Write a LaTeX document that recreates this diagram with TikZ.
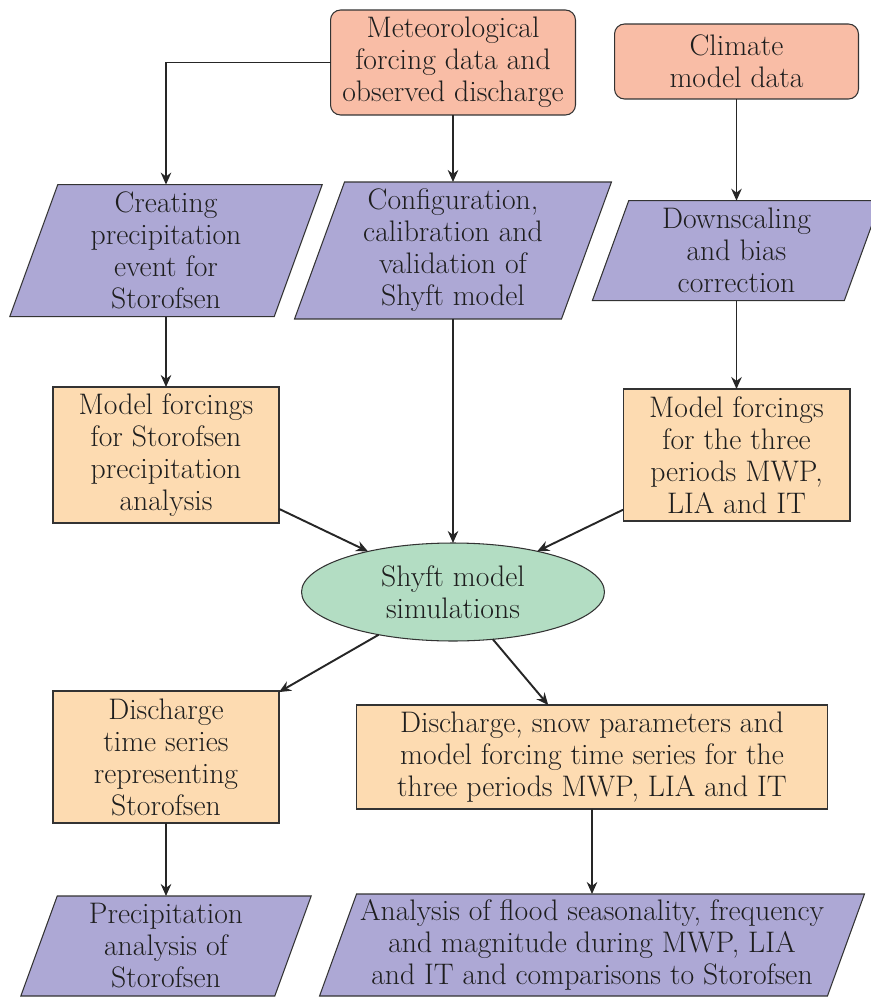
\documentclass[tikz,border=0pt]{standalone}
\usetikzlibrary{shapes.geometric,arrows.meta,backgrounds}
\definecolor{salmon}{HTML}{F9BDA6}
\definecolor{lav}{HTML}{ADA8D5}
\definecolor{peach}{HTML}{FDDBB1}
\definecolor{mint}{HTML}{B3DDC3}
\definecolor{edge}{HTML}{333333}
\definecolor{txt}{HTML}{1E1E1E}
\tikzset{
  base/.style={align=center, text=txt, font=\fontsize{16.9}{18.2}\selectfont, inner sep=2pt, outer sep=0pt},
  srcbox/.style={base, draw=edge, line width=0.6pt, fill=salmon, rounded corners=0.2cm},
  procbox/.style={base, draw=edge, line width=0.6pt, fill=peach},
  paranode/.style={base},
  parafill/.style={draw=edge, line width=0.6pt, fill=lav},
  simnode/.style={base, ellipse, draw=edge, line width=0.6pt, fill=mint},
  arr/.style={-{Stealth[length=2.4mm,width=2.1mm]}, line width=1.1pt, draw=black!85},
}
\newcommand{\parabg}[2]{\draw[parafill] ([xshift=#2]#1.north west) -- ([xshift=#2]#1.north east) -- ([xshift=-#2]#1.south east) -- ([xshift=-#2]#1.south west) -- cycle;}
\begin{document}
\begin{tikzpicture}[x=0.02cm,y=-0.02cm]
\useasboundingbox (0,0) rectangle (871,997);
% sources
\node[srcbox, minimum width=4.9cm, minimum height=2.1cm] (met) at (453,62.5) {Meteorological\\forcing data and\\observed discharge};
\node[srcbox, minimum width=4.88cm, minimum height=1.5cm] (clim) at (736.5,61.5) {Climate\\model data};
% parallelograms row 1
\node[paranode, minimum width=5.29cm, minimum height=2.64cm] (creat) at (166,250.6) {Creating\\precipitation\\event for\\Storofsen};
\node[paranode, minimum width=5.34cm, minimum height=2.74cm] (conf) at (453,250.5) {Configuration,\\calibration and\\validation of\\Shyft model};
\node[paranode, minimum width=5.04cm, minimum height=2.0cm] (down) at (736.5,250.7) {Downscaling\\and bias\\correction};
% forcings
\node[procbox, minimum width=4.52cm, minimum height=2.72cm] (mfs) at (166,455) {Model forcings\\for Storofsen\\precipitation\\analysis};
\node[procbox, minimum width=4.54cm, minimum height=2.64cm] (mft) at (736.5,455) {Model forcings\\for the three\\periods MWP,\\LIA and IT};
% simulation
\node[simnode, minimum width=6.06cm, minimum height=1.96cm] (sim) at (453,592) {Shyft model\\simulations};
% outputs
\node[procbox, minimum width=4.52cm, minimum height=2.64cm] (dts) at (166,757) {Discharge\\time series\\representing\\Storofsen};
\node[procbox, minimum width=9.42cm, minimum height=2.08cm] (dsp) at (592,757) {Discharge, snow parameters and\\model forcing time series for the\\three periods MWP, LIA and IT};
% final parallelograms
\node[paranode, minimum width=5.08cm, minimum height=2.0cm] (pas) at (166,946) {Precipitation\\analysis of\\Storofsen};
\node[paranode, minimum width=10.16cm, minimum height=2.04cm] (afs) at (592,945) {Analysis of flood seasonality, frequency\\and magnitude during MWP, LIA\\and IT and comparisons to Storofsen};
\begin{scope}[on background layer]
\parabg{creat}{0.48cm}
\parabg{conf}{0.5cm}
\parabg{down}{0.364cm}
\parabg{pas}{0.364cm}
\parabg{afs}{0.37cm}
\end{scope}
% connectors
\draw[arr] (met.west) -| (creat.north);
\draw[arr] (met) -- (conf);
\draw[arr] (clim) -- (down);
\draw[arr] (creat) -- (mfs);
\draw[arr] (down) -- (mft);
\draw[arr] (conf) -- (sim);
\draw[arr] (mfs) -- (sim);
\draw[arr] (mft) -- (sim);
\draw[arr] (sim) -- (dts);
\draw[arr] (sim) -- (dsp);
\draw[arr] (dts) -- (pas);
\draw[arr] (dsp) -- (afs);
\end{tikzpicture}
\end{document}
